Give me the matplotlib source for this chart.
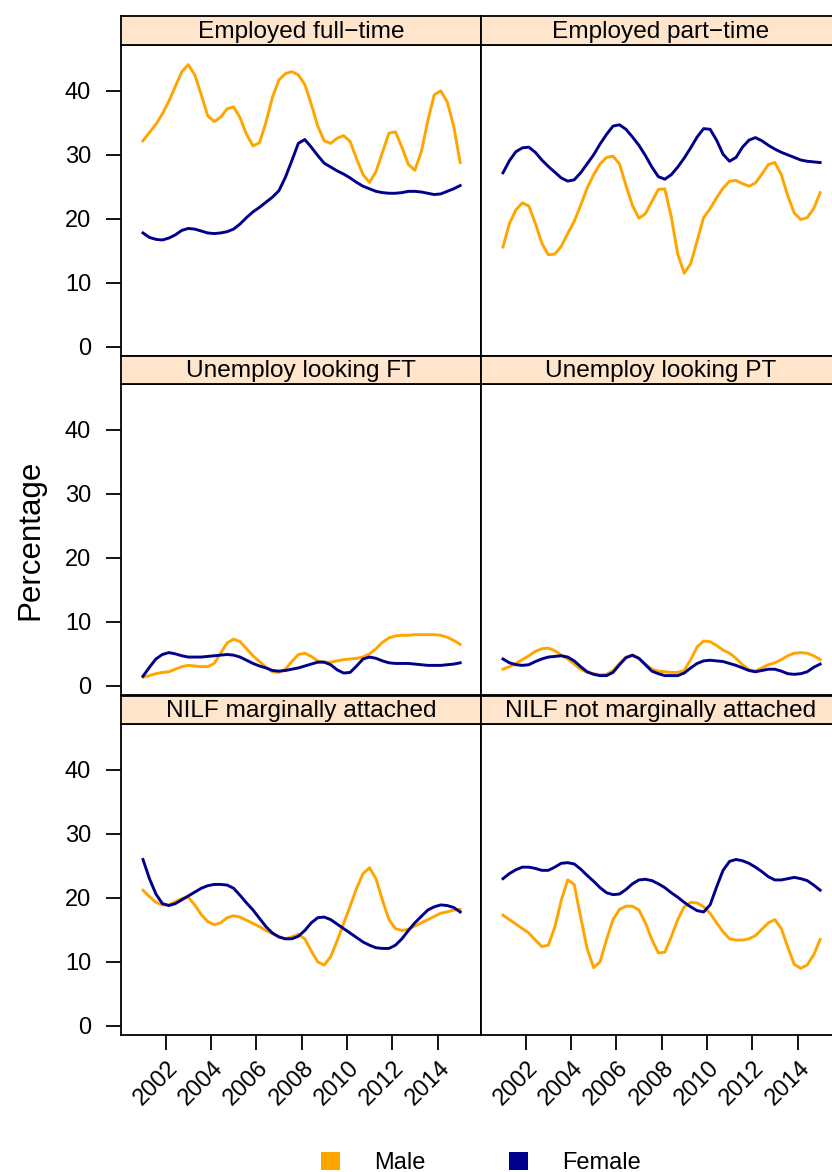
import numpy as np
import matplotlib
matplotlib.use("Agg")
import matplotlib.pyplot as plt
from matplotlib.patches import Patch
from matplotlib.transforms import ScaledTranslation

plt.rcParams['font.family'] = ['Liberation Sans', 'DejaVu Sans']

# ---------------- data ----------------
years = np.linspace(2001, 2015, 50)   # sample time grid (50 points)

panel_titles = ["Employed full\u2212time", "Employed part\u2212time",
                "Unemploy looking FT", "Unemploy looking PT",
                "NILF marginally attached", "NILF not marginally attached"]

series_names = ["Male", "Female"]

male_emp_ft = [32.2, 33.5, 34.8, 36.4, 38.4, 40.7, 43.0, 44.1, 42.5, 39.4,
               36.1, 35.2, 35.9, 37.2, 37.5, 35.8, 33.2, 31.4, 31.9, 35.1,
               39.0, 41.7, 42.7, 43.0, 42.5, 41.0, 37.9, 34.5, 32.2, 31.8,
               32.6, 33.0, 32.1, 29.4, 26.9, 25.7, 27.4, 30.4, 33.4, 33.6,
               31.2, 28.5, 27.6, 30.5, 35.3, 39.4, 40.0, 38.3, 34.5, 28.8]
female_emp_ft = [17.8, 17.1, 16.8, 16.7, 17.0, 17.5, 18.2, 18.5, 18.4, 18.1,
                 17.8, 17.7, 17.8, 18.0, 18.4, 19.2, 20.2, 21.1, 21.8, 22.6,
                 23.4, 24.4, 26.5, 29.1, 31.8, 32.4, 31.2, 29.9, 28.7, 28.1,
                 27.5, 27.0, 26.4, 25.7, 25.1, 24.7, 24.3, 24.1, 24.0, 24.0,
                 24.1, 24.3, 24.3, 24.2, 24.0, 23.8, 23.9, 24.3, 24.7, 25.2]

male_emp_pt = [15.6, 19.3, 21.4, 22.5, 22.0, 19.3, 16.2, 14.4, 14.5, 15.7,
               17.7, 19.6, 22.1, 24.8, 26.9, 28.6, 29.6, 29.8, 28.6, 25.2,
               22.1, 20.1, 20.8, 22.7, 24.6, 24.7, 20.3, 14.5, 11.5, 13.0,
               16.6, 20.2, 21.6, 23.3, 24.8, 25.9, 26.0, 25.5, 25.1, 25.6,
               27.0, 28.5, 28.8, 26.9, 23.6, 20.9, 19.9, 20.2, 21.6, 24.1]
female_emp_pt = [27.2, 29.1, 30.5, 31.1, 31.2, 30.4, 29.2, 28.2, 27.3, 26.4,
                 25.9, 26.1, 27.2, 28.6, 30.0, 31.7, 33.2, 34.5, 34.7, 34.0,
                 32.8, 31.5, 29.9, 28.1, 26.6, 26.2, 26.9, 28.1, 29.5, 31.1,
                 32.8, 34.1, 34.0, 32.3, 30.1, 29.0, 29.6, 31.2, 32.3, 32.7,
                 32.2, 31.5, 30.9, 30.4, 30.0, 29.6, 29.2, 29.0, 28.9, 28.8]

male_unemp_ft = [1.35, 1.6, 1.9, 2.1, 2.2, 2.6, 3.0, 3.2, 3.1, 3.0,
                 3.0, 3.5, 5.1, 6.7, 7.3, 6.9, 5.8, 4.7, 3.8, 2.9,
                 2.2, 2.1, 2.6, 3.8, 4.9, 5.1, 4.6, 3.9, 3.7, 3.7,
                 3.9, 4.1, 4.2, 4.3, 4.5, 5.0, 5.8, 6.8, 7.5, 7.8,
                 7.9, 7.9, 8.0, 8.0, 8.0, 8.0, 7.9, 7.6, 7.1, 6.5]
female_unemp_ft = [1.5, 2.9, 4.2, 4.9, 5.2, 5.0, 4.7, 4.5, 4.5, 4.5,
                   4.6, 4.7, 4.8, 4.9, 4.8, 4.5, 4.0, 3.5, 3.1, 2.8,
                   2.4, 2.3, 2.4, 2.6, 2.8, 3.1, 3.4, 3.7, 3.7, 3.3,
                   2.5, 2.0, 2.1, 3.1, 4.2, 4.5, 4.3, 3.9, 3.6, 3.5,
                   3.5, 3.5, 3.4, 3.3, 3.2, 3.2, 3.2, 3.3, 3.4, 3.6]

male_unemp_pt = [2.6, 3.0, 3.5, 4.1, 4.7, 5.4, 5.8, 5.9, 5.5, 4.8,
                 4.2, 3.4, 2.6, 2.1, 1.9, 1.7, 1.8, 2.4, 3.5, 4.5,
                 4.7, 4.3, 3.4, 2.6, 2.3, 2.2, 2.1, 2.1, 2.4, 4.1,
                 6.1, 7.0, 6.9, 6.3, 5.6, 5.1, 4.3, 3.3, 2.5, 2.3,
                 2.8, 3.3, 3.6, 4.1, 4.7, 5.1, 5.2, 5.1, 4.7, 4.1]
female_unemp_pt = [4.2, 3.6, 3.3, 3.2, 3.3, 3.8, 4.2, 4.5, 4.6, 4.7,
                   4.5, 3.9, 3.0, 2.2, 1.8, 1.6, 1.6, 2.1, 3.3, 4.4,
                   4.8, 4.3, 3.3, 2.3, 1.9, 1.6, 1.6, 1.6, 2.0, 2.8,
                   3.5, 3.9, 4.0, 3.9, 3.8, 3.5, 3.2, 2.8, 2.4, 2.2,
                   2.4, 2.6, 2.6, 2.3, 1.9, 1.8, 1.9, 2.2, 2.9, 3.4]

male_nilf_ma = [21.2, 20.2, 19.3, 18.9, 18.9, 19.4, 19.9, 20.1, 18.9, 17.4,
                16.3, 15.8, 16.1, 16.9, 17.2, 17.0, 16.5, 16.0, 15.5, 14.9,
                14.4, 13.9, 13.6, 13.9, 14.3, 13.6, 11.7, 10.0, 9.5, 10.8,
                13.3, 16.0, 18.7, 21.5, 23.8, 24.7, 23.0, 19.6, 16.6, 15.2,
                14.9, 15.1, 15.6, 16.1, 16.6, 17.1, 17.6, 17.8, 18.1, 18.2]
female_nilf_ma = [26.0, 23.0, 20.6, 19.1, 18.8, 19.1, 19.7, 20.3, 20.9, 21.5,
                  21.9, 22.1, 22.1, 22.0, 21.5, 20.4, 19.2, 18.1, 16.8, 15.5,
                  14.5, 13.9, 13.6, 13.6, 14.0, 14.9, 16.1, 16.9, 17.0, 16.6,
                  15.9, 15.2, 14.5, 13.8, 13.1, 12.6, 12.2, 12.1, 12.1, 12.6,
                  13.6, 14.9, 16.1, 17.1, 18.1, 18.6, 18.9, 18.8, 18.5, 17.8]

male_nilf_nma = [17.3, 16.6, 15.9, 15.2, 14.5, 13.4, 12.4, 12.6, 15.4, 19.6,
                 22.8, 22.1, 17.0, 12.1, 9.1, 10.0, 13.5, 16.6, 18.2, 18.7,
                 18.7, 18.1, 16.1, 13.5, 11.4, 11.5, 13.9, 16.6, 18.6, 19.3,
                 19.2, 18.6, 17.6, 16.1, 14.7, 13.6, 13.4, 13.4, 13.6, 14.1,
                 15.1, 16.1, 16.6, 15.2, 12.3, 9.6, 9.0, 9.5, 11.1, 13.5]
female_nilf_nma = [23.0, 23.8, 24.4, 24.8, 24.8, 24.6, 24.3, 24.3, 24.8, 25.4,
                   25.5, 25.3, 24.5, 23.5, 22.6, 21.6, 20.8, 20.5, 20.6, 21.3,
                   22.2, 22.8, 22.9, 22.7, 22.2, 21.6, 20.8, 20.1, 19.3, 18.6,
                   18.0, 17.8, 18.9, 21.7, 24.3, 25.7, 26.0, 25.8, 25.4, 24.8,
                   24.1, 23.3, 22.8, 22.8, 23.0, 23.2, 23.0, 22.7, 22.0, 21.2]

male_series = [male_emp_ft, male_emp_pt, male_unemp_ft, male_unemp_pt,
               male_nilf_ma, male_nilf_nma]
female_series = [female_emp_ft, female_emp_pt, female_unemp_ft, female_unemp_pt,
                 female_nilf_ma, female_nilf_nma]

x_ticks = [2002, 2004, 2006, 2008, 2010, 2012, 2014]
y_ticks = [0, 10, 20, 30, 40]

# ---------------- style / layout ----------------
MALE_C = "#FFA500"
FEMALE_C = "#00008B"
STRIP_C = "#FFE5CC"
FS = 17

W, H = 832, 1172
fig = plt.figure(figsize=(W / 100, H / 100), dpi=100)

col_left = [121, 481]
col_w = 360
# (plot top, plot bottom, strip top) in pixels from top
rows = [(45, 356, 15.7), (384, 695, 356.0), (724, 1035, 695.7)]

for i in range(6):
    r, c = divmod(i, 2)
    top, bot, stop = rows[r]
    left = col_left[c]
    ax = fig.add_axes([left / W, 1 - bot / H, col_w / W, (bot - top) / H])
    ax.plot(years, male_series[i], color=MALE_C, lw=2.1)
    ax.plot(years, female_series[i], color=FEMALE_C, lw=2.1)
    ax.set_xlim(2000.03, 2015.92)
    ax.set_ylim(-1.43, 47.17)
    for s in ax.spines.values():
        s.set_linewidth(1.3)
        s.set_color("black")
    ax.set_xticks(x_ticks)
    ax.set_yticks(y_ticks)
    ax.tick_params(direction="out", length=10.6, width=1.3, labelsize=FS,
                   top=False, right=False)
    ax.tick_params(axis="y", pad=11)
    ax.tick_params(axis="x", pad=5)
    if c != 0:
        ax.tick_params(axis="y", left=False, labelleft=False)
    if r != 2:
        ax.tick_params(axis="x", bottom=False, labelbottom=False)
    else:
        ax.set_xticklabels([str(t) for t in x_ticks], rotation=45,
                           ha="right", va="top", rotation_mode="anchor")
        off = ScaledTranslation(1 / 100, 0, fig.dpi_scale_trans)
        for lab in ax.get_xticklabels():
            lab.set_transform(lab.get_transform() + off)

    # strip
    sax = fig.add_axes([left / W, 1 - top / H, col_w / W, (top - stop) / H])
    sax.set_facecolor(STRIP_C)
    sax.set_xticks([])
    sax.set_yticks([])
    for s in sax.spines.values():
        s.set_linewidth(1.3)
        s.set_color("black")
    sax.text(0.5, 0.45, panel_titles[i], ha="center", va="center",
             fontsize=17.6, transform=sax.transAxes)

fig.text(30 / W, 1 - 540 / H, "Percentage", rotation=90, ha="center",
         va="center", fontsize=22.5)

handles = [Patch(facecolor=MALE_C, edgecolor="none"),
           Patch(facecolor=FEMALE_C, edgecolor="none")]
fig.legend(handles, series_names, loc="center",
           bbox_to_anchor=(481 / W, 1 - 1163 / H), ncol=2, frameon=False,
           fontsize=FS, handlelength=0.8, handleheight=0.8,
           handletextpad=1.48, columnspacing=3.5, borderpad=0,
           borderaxespad=0)

fig.savefig("out.png", dpi=100)
